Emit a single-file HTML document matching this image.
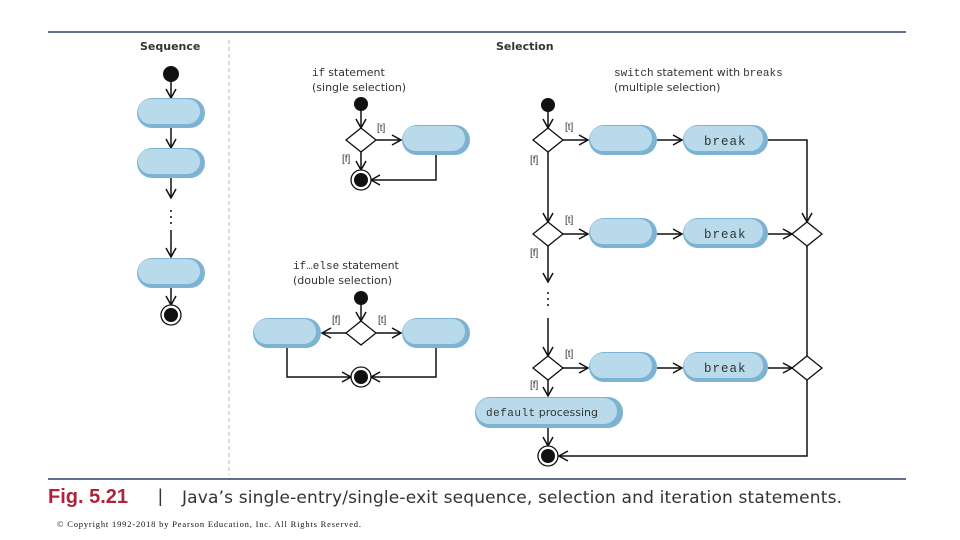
<!DOCTYPE html>
<html><head><meta charset="utf-8"><style>
body{margin:0;background:#fff;width:960px;height:540px;overflow:hidden}
svg{display:block}
.l{font-family:"DejaVu Sans","Liberation Sans",sans-serif;font-size:11px;fill:#333}
.m{font-family:"Liberation Mono",monospace;font-size:11px;fill:#333}
.b{font-family:"Liberation Mono",monospace;font-size:12.5px;fill:#333;letter-spacing:1px}
.g{font-family:"Liberation Sans",sans-serif;font-size:10px;fill:#333}
</style></head><body>
<svg width="960" height="540" viewBox="0 0 960 540" xmlns="http://www.w3.org/2000/svg">
<defs>
<marker id="a" markerWidth="12" markerHeight="12" refX="10" refY="6" orient="auto" markerUnits="userSpaceOnUse">
<path d="M1,1 L10,6 L1,11" fill="none" stroke="#111" stroke-width="1.5"/></marker>
<g id="p68"><rect x="0" y="0" width="68" height="30" rx="15" fill="#7db3d2"/><rect x="1" y="1" width="62" height="25" rx="12.5" fill="#b9daeb"/></g>
<g id="p85"><rect x="0" y="0" width="85" height="30" rx="15" fill="#7db3d2"/><rect x="1" y="1" width="79" height="25" rx="12.5" fill="#b9daeb"/></g>
</defs>
<line x1="48" y1="32" x2="906" y2="32" stroke="#2d3f66" stroke-width="1.5"/>
<line x1="48" y1="479" x2="906" y2="479" stroke="#2d3f66" stroke-width="1.5"/>
<line x1="229" y1="40" x2="229" y2="475" stroke="#bbb" stroke-dasharray="4,3"/>
<text x="140" y="50" font-family="DejaVu Sans,sans-serif" font-weight="bold" font-size="11" fill="#333">Sequence</text>
<text x="496" y="50" font-family="DejaVu Sans,sans-serif" font-weight="bold" font-size="11" fill="#333">Selection</text>
<g stroke="#111" stroke-width="1.5" fill="none">
<line x1="171" y1="80" x2="171" y2="98" marker-end="url(#a)"/>
<line x1="171" y1="128" x2="171" y2="148" marker-end="url(#a)"/>
<line x1="171" y1="178" x2="171" y2="198" marker-end="url(#a)"/>
<line x1="171" y1="230" x2="171" y2="257" marker-end="url(#a)"/>
<line x1="171" y1="288" x2="171" y2="305" marker-end="url(#a)"/>
<line x1="361" y1="110" x2="361" y2="128" marker-end="url(#a)"/>
<line x1="376" y1="140" x2="401" y2="140" marker-end="url(#a)"/>
<line x1="361" y1="152" x2="361" y2="170" marker-end="url(#a)"/>
<polyline points="436,155 436,180 371,180" marker-end="url(#a)"/>
<line x1="361" y1="304" x2="361" y2="321" marker-end="url(#a)"/>
<line x1="376" y1="333" x2="401" y2="333" marker-end="url(#a)"/>
<line x1="346" y1="333" x2="322" y2="333" marker-end="url(#a)"/>
<polyline points="287,348 287,377 351,377" marker-end="url(#a)"/>
<polyline points="436,348 436,377 371,377" marker-end="url(#a)"/>
<line x1="548" y1="111" x2="548" y2="128" marker-end="url(#a)"/>
<line x1="563" y1="140" x2="588" y2="140" marker-end="url(#a)"/>
<line x1="657" y1="140" x2="682" y2="140" marker-end="url(#a)"/>
<polyline points="768,140 807,140 807,222" marker-end="url(#a)"/>
<line x1="548" y1="152" x2="548" y2="222" marker-end="url(#a)"/>
<line x1="563" y1="234" x2="588" y2="234" marker-end="url(#a)"/>
<line x1="657" y1="234" x2="682" y2="234" marker-end="url(#a)"/>
<line x1="768" y1="234" x2="792" y2="234" marker-end="url(#a)"/>
<line x1="548" y1="246" x2="548" y2="282" marker-end="url(#a)"/>
<line x1="548" y1="318" x2="548" y2="356" marker-end="url(#a)"/>
<line x1="563" y1="368" x2="588" y2="368" marker-end="url(#a)"/>
<line x1="657" y1="368" x2="682" y2="368" marker-end="url(#a)"/>
<line x1="768" y1="368" x2="792" y2="368" marker-end="url(#a)"/>
<line x1="548" y1="380" x2="548" y2="396" marker-end="url(#a)"/>
<line x1="548" y1="427" x2="548" y2="446" marker-end="url(#a)"/>
<line x1="807" y1="246" x2="807" y2="356"/>
<polyline points="807,380 807,456 559,456" marker-end="url(#a)"/>
</g>
<g fill="#fff" stroke="#111" stroke-width="1.3">
<polygon points="361,128 376,140 361,152 346,140"/>
<polygon points="361,321 376,333 361,345 346,333"/>
<polygon points="548,128 563,140 548,152 533,140"/>
<polygon points="548,222 563,234 548,246 533,234"/>
<polygon points="548,356 563,368 548,380 533,368"/>
<polygon points="807,222 822,234 807,246 792,234"/>
<polygon points="807,356 822,368 807,380 792,368"/>
</g>
<g fill="#111"><circle cx="171" cy="74" r="8"/><circle cx="361" cy="104" r="7"/><circle cx="361" cy="298" r="7"/><circle cx="548" cy="105" r="7"/></g>
<g><circle cx="171" cy="315" r="10" fill="#fff" stroke="#111" stroke-width="1.3"/><circle cx="171" cy="315" r="7" fill="#111"/>
<circle cx="361" cy="180" r="10" fill="#fff" stroke="#111" stroke-width="1.3"/><circle cx="361" cy="180" r="7" fill="#111"/>
<circle cx="361" cy="377" r="10" fill="#fff" stroke="#111" stroke-width="1.3"/><circle cx="361" cy="377" r="7" fill="#111"/>
<circle cx="548" cy="456" r="10" fill="#fff" stroke="#111" stroke-width="1.3"/><circle cx="548" cy="456" r="7" fill="#111"/></g>
<g fill="#111"><circle cx="171" cy="211" r="1"/><circle cx="171" cy="217" r="1"/><circle cx="171" cy="223" r="1"/>
<circle cx="548" cy="293" r="1"/><circle cx="548" cy="299" r="1"/><circle cx="548" cy="305" r="1"/></g>
<use href="#p68" x="137" y="98"/><use href="#p68" x="137" y="148"/><use href="#p68" x="137" y="258"/>
<use href="#p68" x="402" y="125"/><use href="#p68" x="253" y="318"/><use href="#p68" x="402" y="318"/>
<use href="#p68" x="589" y="125"/><use href="#p68" x="589" y="218"/><use href="#p68" x="589" y="352"/>
<use href="#p85" x="683" y="125"/><use href="#p85" x="683" y="218"/><use href="#p85" x="683" y="352"/>
<rect x="475" y="397" width="148" height="31" rx="15" fill="#7db3d2"/><rect x="476" y="398" width="141" height="26" rx="13" fill="#b9daeb"/>
<text class="b" x="704" y="145">break</text><text class="b" x="704" y="238">break</text><text class="b" x="704" y="372">break</text>
<text x="486" y="416"><tspan class="m" style="letter-spacing:0.5px">default</tspan><tspan class="l" dx="3">processing</tspan></text>
<text x="312" y="76"><tspan class="m">if</tspan><tspan class="l" dx="3">statement</tspan></text>
<text class="l" x="312" y="91">(single selection)</text>
<text x="293" y="269"><tspan class="m">if…else</tspan><tspan class="l" dx="3">statement</tspan></text>
<text class="l" x="293" y="284">(double selection)</text>
<text x="614" y="76"><tspan class="m">switch</tspan><tspan class="l" dx="3">statement with</tspan><tspan class="m" dx="3">breaks</tspan></text>
<text class="l" x="614" y="91">(multiple selection)</text>
<text class="g" x="377" y="131">[t]</text><text class="g" x="342" y="162">[f]</text>
<text class="g" x="332" y="323">[f]</text><text class="g" x="378" y="323">[t]</text>
<text class="g" x="565" y="130">[t]</text><text class="g" x="530" y="163">[f]</text>
<text class="g" x="565" y="223">[t]</text><text class="g" x="530" y="256">[f]</text>
<text class="g" x="565" y="357">[t]</text><text class="g" x="530" y="388">[f]</text>
<text x="48" y="503" font-family="Liberation Sans,sans-serif" font-weight="bold" font-size="20" fill="#b0213a">Fig. 5.21</text>
<text x="158" y="502" font-family="Liberation Sans,sans-serif" font-size="18" fill="#333">|</text>
<text x="182" y="503" font-family="DejaVu Sans,sans-serif" font-size="17" fill="#333" textLength="660">Java’s single-entry/single-exit sequence, selection and iteration statements.</text>
<text x="57" y="527" font-family="Liberation Serif,serif" font-size="8.5" fill="#111" textLength="304">© Copyright 1992-2018 by Pearson Education, Inc. All Rights Reserved.</text>
</svg>
</body></html>
